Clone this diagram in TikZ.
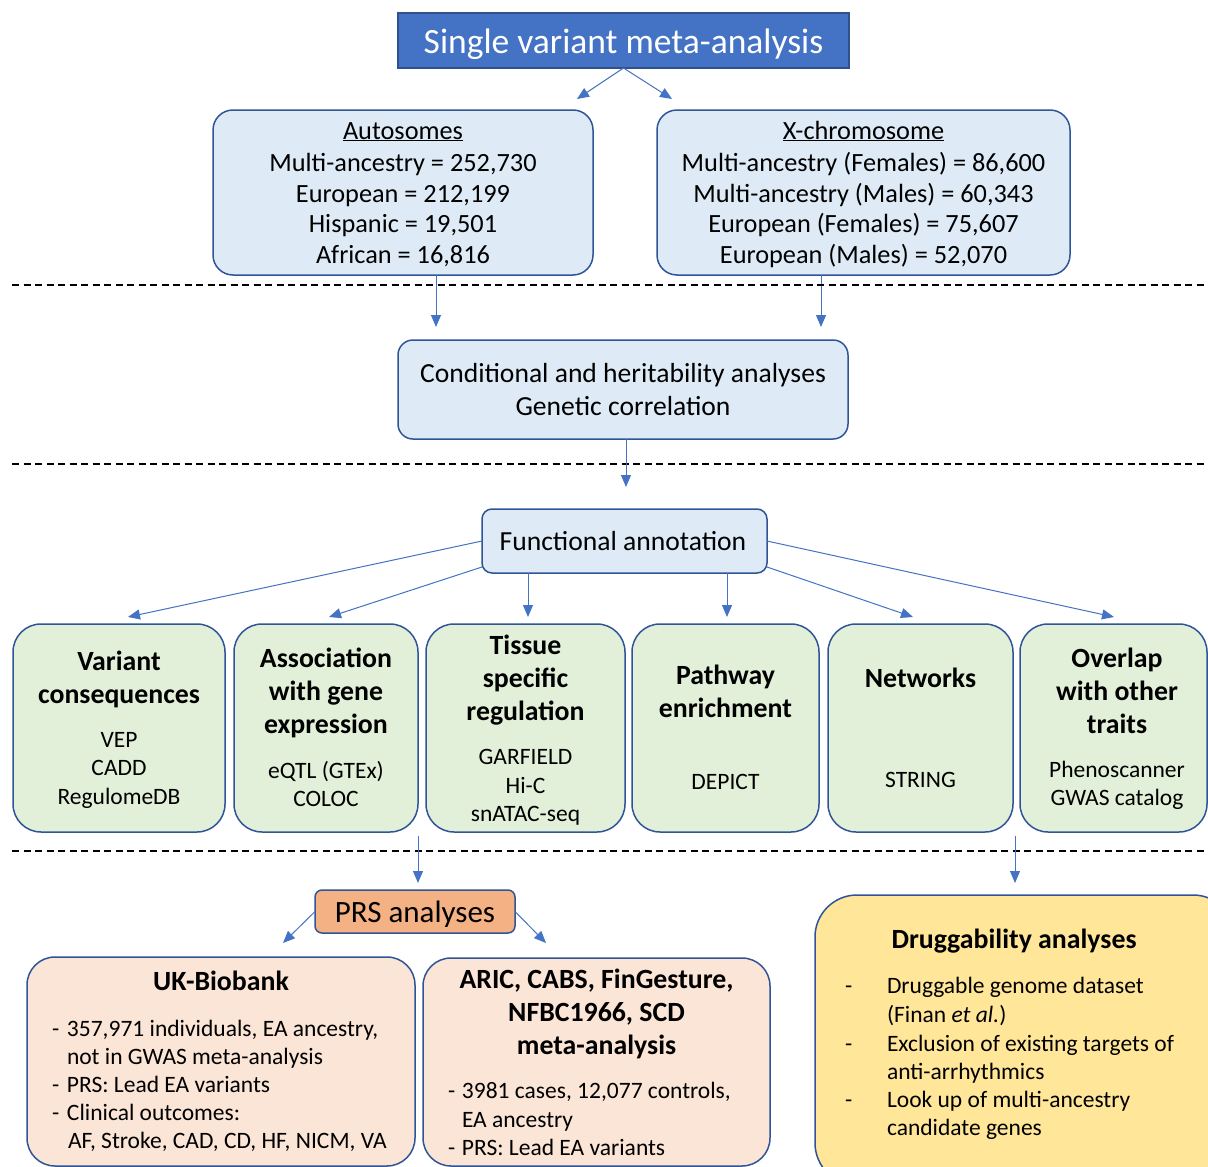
\documentclass[tikz,border=0pt]{standalone}
\usepackage{fontspec}
\setmainfont{Carlito}
\usetikzlibrary{arrows.meta}
\definecolor{titleblue}{HTML}{4472C4}
\definecolor{titleedge}{HTML}{2F528F}
\definecolor{edgeblue}{HTML}{2F5597}
\definecolor{lightblue}{HTML}{DEEBF7}
\definecolor{lightgreen}{HTML}{E2F0D9}
\definecolor{prsorange}{HTML}{F4B183}
\definecolor{lightpeach}{HTML}{FBE5D6}
\definecolor{lightyellow}{HTML}{FFE699}
\definecolor{arrowblue}{HTML}{4472C4}
\begin{document}
\begin{tikzpicture}[x=1pt,y=-1pt,
  box/.style={draw=edgeblue, line width=1.5pt, inner sep=0pt, outer sep=0pt},
  txt/.style={inner sep=0pt, outer sep=0pt, anchor=base, text=black},
  ltxt/.style={txt, anchor=base west},
  big/.style={font=\fontsize{26.3}{31}\selectfont},
  mid/.style={font=\fontsize{27.6}{33}\selectfont},
  hd/.style={font=\bfseries\fontsize{27.8}{33}\selectfont},
  body/.style={font=\fontsize{23.5}{28}\selectfont},
  arr/.style={draw=arrowblue, line width=1pt, -{Triangle[length=12pt,width=10pt]}},
  sep/.style={draw=black, line width=1.6pt, dash pattern=on 7pt off 4.5pt},
]
\clip (0,0) rectangle (1208,1167);
\fill[white] (0,0) rectangle (1208,1167);

% ---------- title ----------
\node[box, fill=titleblue, draw=titleedge, minimum width=451pt, minimum height=55pt] (title) at (623.5,40.5) {};
\node[txt, text=white, font=\fontsize{35.5}{42}\selectfont] (titletext) at (623.5,53) {Single variant meta-analysis};
\coordinate (tl) at (577,99);
\coordinate (tr) at (672,99);
\draw[arr] (title.south) -- (tl);
\draw[arr] (title.south) -- (tr);

% ---------- autosomes ----------
\node[box, fill=lightblue, rounded corners=20pt, minimum width=380pt, minimum height=165pt] (auto) at (403,192.5) {};
\node[txt,big] (autoh) at (403,139) {\underline{Autosomes}};
\node[txt,big] (auto1) at (403,171.5) {Multi-ancestry = 252,730};
\node[txt,big] (auto2) at (403,202) {European = 212,199};
\node[txt,big] (auto3) at (403,232.5) {Hispanic = 19,501};
\node[txt,big] (auto4) at (403,263) {African = 16,816};

% ---------- X chromosome ----------
\node[box, fill=lightblue, rounded corners=20pt, minimum width=413pt, minimum height=165pt] (xchr) at (863.5,192.5) {};
\node[txt,big] (xh) at (863.5,139) {\underline{X-chromosome}};
\node[txt,big] (x1) at (863.5,171.5) {Multi-ancestry (Females) = 86,600};
\node[txt,big] (x2) at (863.5,202) {Multi-ancestry (Males) = 60,343};
\node[txt,big] (x3) at (863.5,232.5) {European (Females) = 75,607};
\node[txt,big] (x4) at (863.5,263) {European (Males) = 52,070};

\coordinate (autotip) at (436,327);
\coordinate (xtip) at (821,327);
\draw[arr] (auto.south -| autotip) -- (autotip);
\draw[arr] (xchr.south -| xtip) -- (xtip);

% ---------- separators ----------
\coordinate (d1l) at (12,285);  \coordinate (d1r) at (1204,285);
\coordinate (d2l) at (12,464);  \coordinate (d2r) at (1204,464);
\coordinate (d3l) at (12,851);  \coordinate (d3r) at (1204,851);
\draw[sep] (d1l) -- (d1r);
\draw[sep] (d2l) -- (d2r);
\draw[sep] (d3l) -- (d3r);

% ---------- conditional ----------
\node[box, fill=lightblue, rounded corners=15pt, minimum width=450pt, minimum height=99pt] (cond) at (623,389.5) {};
\node[txt,mid] (cond1) at (623,382) {Conditional and heritability analyses};
\node[txt,mid] (cond2) at (623,415) {Genetic correlation};
\coordinate (condtip) at (626,487);
\draw[arr] (cond.south -| condtip) -- (condtip);

% ---------- functional ----------
\node[box, fill=lightblue, rounded corners=10pt, minimum width=285pt, minimum height=64pt] (func) at (624.5,541) {};
\node[txt,mid] (functext) at (623,550) {Functional annotation};

\coordinate (g1tip) at (128,617);
\coordinate (g2tip) at (329,617);
\coordinate (g3tip) at (528,617);
\coordinate (g4tip) at (727,617);
\coordinate (g5tip) at (913,617);
\coordinate (g6tip) at (1114,617);
\draw[arr] (func.west) -- (g1tip);
\draw[arr] ([yshift=6pt]func.south west) -- (g2tip);
\draw[arr] (func.south -| g3tip) -- (g3tip);
\draw[arr] (func.south -| g4tip) -- (g4tip);
\draw[arr] ([yshift=6pt]func.south east) -- (g5tip);
\draw[arr] (func.east) -- (g6tip);

% ---------- green boxes ----------
\tikzset{gbox/.style={box, fill=lightgreen, rounded corners=28pt, minimum height=208pt}}
\node[gbox, minimum width=212pt] (g1) at (119,728) {};
\node[gbox, minimum width=184pt] (g2) at (326,728) {};
\node[gbox, minimum width=199pt] (g3) at (525.5,728) {};
\node[gbox, minimum width=187pt] (g4) at (725.5,728) {};
\node[gbox, minimum width=185pt] (g5) at (920.5,728) {};
\node[gbox, minimum width=187pt] (g6) at (1113.5,728) {};

\node[txt,hd] (g1a) at (119,670) {Variant};
\node[txt,hd] (g1b) at (119,703) {consequences};
\node[txt,body] (g1c) at (119,747) {VEP};
\node[txt,body] (g1d) at (119,775.5) {CADD};
\node[txt,body] (g1e) at (119,804) {RegulomeDB};

\node[txt,hd] (g2a) at (326,667) {Association};
\node[txt,hd] (g2b) at (326,700) {with gene};
\node[txt,hd] (g2c) at (326,733) {expression};
\node[txt,body] (g2d) at (326,778) {eQTL (GTEx)};
\node[txt,body] (g2e) at (326,806.5) {COLOC};

\node[txt,hd] (g3a) at (525.5,654) {Tissue};
\node[txt,hd] (g3b) at (525.5,687) {specific};
\node[txt,hd] (g3c) at (525.5,720) {regulation};
\node[txt,body] (g3d) at (525.5,764.5) {GARFIELD};
\node[txt,body] (g3e) at (525.5,793) {Hi-C};
\node[txt,body] (g3f) at (525.5,821.5) {snATAC-seq};

\node[txt,hd] (g4a) at (725.5,684) {Pathway};
\node[txt,hd] (g4b) at (725.5,717) {enrichment};
\node[txt,body] (g4c) at (725.5,789) {DEPICT};

\node[txt,hd] (g5a) at (920.5,687) {Networks};
\node[txt,body] (g5b) at (920.5,787) {STRING};

\node[txt,hd] (g6a) at (1117,667) {Overlap};
\node[txt,hd] (g6b) at (1117,700) {with other};
\node[txt,hd] (g6c) at (1117,733) {traits};
\node[txt,body] (g6d) at (1117,777) {Phenoscanner};
\node[txt,body] (g6e) at (1117,805.5) {GWAS catalog};

\coordinate (p1s) at (418,836);  \coordinate (p1t) at (418,883);
\coordinate (p2s) at (1015,836); \coordinate (p2t) at (1015,883);
\draw[arr] (p1s) -- (p1t);
\draw[arr] (p2s) -- (p2t);

% ---------- PRS ----------
\node[box, fill=prsorange, rounded corners=7pt, minimum width=200pt, minimum height=43pt] (prs) at (415,911.5) {};
\node[txt, font=\fontsize{31}{37}\selectfont] (prstext) at (415,922) {PRS analyses};
\coordinate (ukt) at (283,943);
\coordinate (arict) at (546,943);
\draw[arr] (prs.west) -- (ukt);
\draw[arr] (prs.east) -- (arict);

% ---------- UK Biobank ----------
\node[box, fill=lightpeach, rounded corners=28pt, minimum width=388pt, minimum height=209pt] (uk) at (221,1061.5) {};
\node[txt,hd] (ukh) at (221,990) {UK-Biobank};
\node[ltxt,body] (uk1) at (52,1036) {\makebox[15pt][l]{-}357,971 individuals, EA ancestry,};
\node[ltxt,body] (uk2) at (67,1064) {not in GWAS meta-analysis};
\node[ltxt,body] (uk3) at (52,1092) {\makebox[15pt][l]{-}PRS: Lead EA variants};
\node[ltxt,body] (uk4) at (52,1120) {\makebox[15pt][l]{-}Clinical outcomes:};
\node[ltxt,body] (uk5) at (68,1148) {AF, Stroke, CAD, CD, HF, NICM, VA};

% ---------- ARIC ----------
\node[box, fill=lightpeach, rounded corners=28pt, minimum width=347pt, minimum height=208pt] (aric) at (596.5,1062) {};
\node[txt,hd] (arich1) at (596.5,988) {ARIC, CABS, FinGesture,};
\node[txt,hd] (arich2) at (596.5,1021) {NFBC1966, SCD};
\node[txt,hd] (arich3) at (596.5,1054) {meta-analysis};
\node[ltxt,body] (aric1) at (448,1098) {\makebox[14pt][l]{-}3981 cases, 12,077 controls,};
\node[ltxt,body] (aric2) at (462,1127) {EA ancestry};
\node[ltxt,body] (aric3) at (448,1155) {\makebox[14pt][l]{-}PRS: Lead EA variants};

% ---------- Druggability ----------
\node[box, fill=lightyellow, rounded corners=42pt, minimum width=420pt, minimum height=290pt] (drug) at (1025,1040) {};
\node[txt,hd] (drugh) at (1014,948) {Druggability analyses};
\node[ltxt,body] (dd1) at (845,993) {-};
\node[ltxt,body] (drug1) at (887,993) {Druggable genome dataset};
\node[ltxt,body] (drug2) at (887,1022) {(Finan \textit{et al.})};
\node[ltxt,body] (dd2) at (845,1051) {-};
\node[ltxt,body] (drug3) at (887,1051) {Exclusion of existing targets of};
\node[ltxt,body] (drug4) at (887,1079) {anti-arrhythmics};
\node[ltxt,body] (dd3) at (845,1107) {-};
\node[ltxt,body] (drug5) at (887,1107) {Look up of multi-ancestry};
\node[ltxt,body] (drug6) at (887,1135) {candidate genes};
\end{tikzpicture}
\end{document}
